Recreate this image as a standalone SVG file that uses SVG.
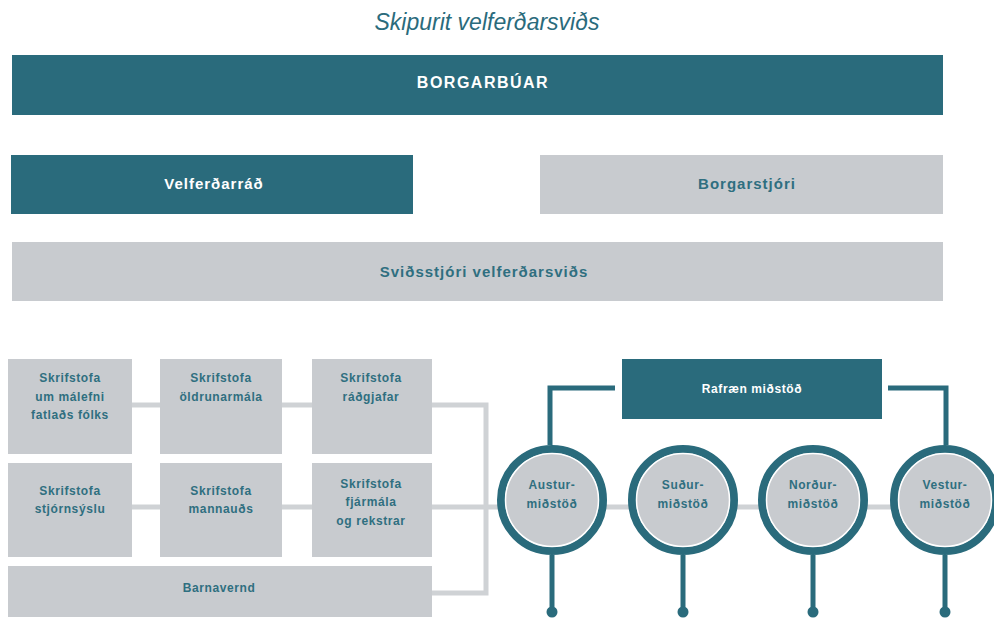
<svg xmlns="http://www.w3.org/2000/svg" width="994" height="618" viewBox="0 0 994 618">
<style>
.teal{fill:#2a6b7c}
.gray{fill:#c8cbcf}
.t{font-family:"Liberation Sans",Arial,sans-serif;font-weight:bold;text-anchor:middle}
.w{fill:#ffffff}
.d{fill:#2f6f80}
.s{font-size:12px;letter-spacing:0.6px}
.gl{stroke:#cfd2d5;stroke-width:5;fill:none}
.tl{stroke:#2a6b7c;stroke-width:5;fill:none}
.ring{fill:#c8cbcf;stroke:#2a6b7c;stroke-width:8}
.inner{fill:none;stroke:#ffffff;stroke-width:1.5}
</style>
<rect width="994" height="618" fill="#ffffff"/>
<text x="487" y="30" font-family="Liberation Sans,Arial,sans-serif" font-style="italic" font-size="23" fill="#2a6b7c" text-anchor="middle">Skipurit velferðarsviðs</text>

<g id="connectors">
  <polyline class="gl" points="132,405 160,405"/>
  <polyline class="gl" points="282,405 312,405"/>
  <polyline class="gl" points="432,405 486,405 486,593 432,593"/>
  <polyline class="gl" points="132,507 160,507"/>
  <polyline class="gl" points="282,507 312,507"/>
  <polyline class="gl" points="432,507 994,507"/>
  <polyline class="tl" points="615,388 550,388 550,445"/>
  <polyline class="tl" points="888,388 946,388 946,445"/>
  <line class="tl" x1="552" y1="555" x2="552" y2="610"/>
  <line class="tl" x1="683" y1="555" x2="683" y2="610"/>
  <line class="tl" x1="813" y1="555" x2="813" y2="610"/>
  <line class="tl" x1="945" y1="555" x2="945" y2="610"/>
  <circle class="teal" cx="552" cy="612" r="5.5"/>
  <circle class="teal" cx="683" cy="612" r="5.5"/>
  <circle class="teal" cx="813" cy="612" r="5.5"/>
  <circle class="teal" cx="945" cy="612" r="5.5"/>
</g>

<g id="borgarbuar">
  <rect class="teal" x="12" y="55" width="931" height="60"/>
  <text class="t w" x="483" y="88" font-size="16" letter-spacing="1.5">BORGARBÚAR</text>
</g>
<g id="velferdarrad">
  <rect class="teal" x="11" y="155" width="402" height="59"/>
  <text class="t w" x="214" y="189" font-size="15" letter-spacing="1">Velferðarráð</text>
</g>
<g id="borgarstjori">
  <rect class="gray" x="540" y="155" width="403" height="59"/>
  <text class="t d" x="747" y="189" font-size="15" letter-spacing="1">Borgarstjóri</text>
</g>
<g id="svidsstjori">
  <rect class="gray" x="12" y="242" width="931" height="59"/>
  <text class="t d" x="484" y="277" font-size="15" letter-spacing="1">Sviðsstjóri velferðarsviðs</text>
</g>

<g id="fatlads">
  <rect class="gray" x="8" y="359" width="124" height="95"/>
  <text class="t d s" x="70" y="382">Skrifstofa</text>
  <text class="t d s" x="70" y="401">um málefni</text>
  <text class="t d s" x="70" y="419">fatlaðs fólks</text>
</g>
<g id="oldrunar">
  <rect class="gray" x="160" y="359" width="122" height="95"/>
  <text class="t d s" x="221" y="382">Skrifstofa</text>
  <text class="t d s" x="221" y="401">öldrunarmála</text>
</g>
<g id="radgjafar">
  <rect class="gray" x="312" y="359" width="120" height="95"/>
  <text class="t d s" x="371" y="382">Skrifstofa</text>
  <text class="t d s" x="371" y="401">ráðgjafar</text>
</g>
<g id="stjornsyslu">
  <rect class="gray" x="8" y="463" width="124" height="94"/>
  <text class="t d s" x="70" y="495">Skrifstofa</text>
  <text class="t d s" x="70" y="513">stjórnsýslu</text>
</g>
<g id="mannauds">
  <rect class="gray" x="160" y="463" width="122" height="94"/>
  <text class="t d s" x="221" y="495">Skrifstofa</text>
  <text class="t d s" x="221" y="513">mannauðs</text>
</g>
<g id="fjarmala">
  <rect class="gray" x="312" y="463" width="120" height="94"/>
  <text class="t d s" x="371" y="488">Skrifstofa</text>
  <text class="t d s" x="371" y="506">fjármála</text>
  <text class="t d s" x="371" y="525">og rekstrar</text>
</g>
<g id="barnavernd">
  <rect class="gray" x="8" y="566" width="424" height="51"/>
  <text class="t d s" x="219" y="592">Barnavernd</text>
</g>

<g id="rafraen">
  <rect class="teal" x="622" y="359" width="260" height="60"/>
  <text class="t w s" x="752" y="393">Rafræn miðstöð</text>
</g>

<g id="austur">
  <circle class="ring" cx="552" cy="500" r="51"/>
  <circle class="inner" cx="552" cy="500" r="46.5"/>
  <text class="t d s" x="552" y="489">Austur-</text>
  <text class="t d s" x="552" y="508">miðstöð</text>
</g>
<g id="sudur">
  <circle class="ring" cx="683" cy="500" r="51"/>
  <circle class="inner" cx="683" cy="500" r="46.5"/>
  <text class="t d s" x="683" y="489">Suður-</text>
  <text class="t d s" x="683" y="508">miðstöð</text>
</g>
<g id="nordur">
  <circle class="ring" cx="813" cy="500" r="51"/>
  <circle class="inner" cx="813" cy="500" r="46.5"/>
  <text class="t d s" x="813" y="489">Norður-</text>
  <text class="t d s" x="813" y="508">miðstöð</text>
</g>
<g id="vestur">
  <circle class="ring" cx="945" cy="500" r="51"/>
  <circle class="inner" cx="945" cy="500" r="46.5"/>
  <text class="t d s" x="945" y="489">Vestur-</text>
  <text class="t d s" x="945" y="508">miðstöð</text>
</g>
</svg>
